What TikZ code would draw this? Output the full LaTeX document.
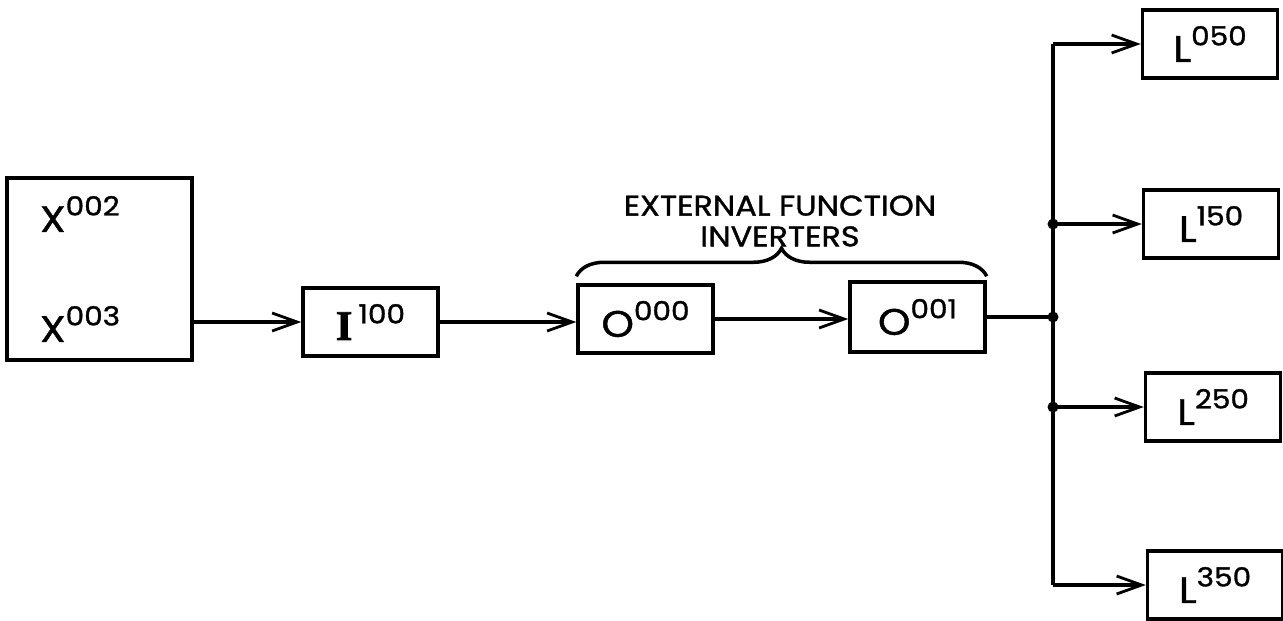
\documentclass[tikz,border=0pt]{standalone}
\usepackage{fontspec}
\setmainfont{Poppins}[FakeBold=1.2,FakeStretch=1.12,AutoFakeBold=1.2]
\newfontfamily\seriffam{Liberation Serif}[FakeBold=2]
\usepackage{tikz}
\usetikzlibrary{arrows.meta,positioning,decorations.pathreplacing}
\newcommand{\cname}[2]{\bfseries #1\raisebox{0.33cm}{\fontsize{15}{15}\selectfont #2}}
\tikzset{
  blk/.style={draw,line width=2pt,minimum width=2.7cm,minimum height=1.36cm,inner sep=2pt,
              font=\fontsize{21}{24}\selectfont},
  sig/.style={-{Straight Barb[length=5mm,width=3.6mm,line width=1.6pt]},line width=2pt},
  wire/.style={line width=2pt},
  dot/.style={circle,fill,inner sep=0pt,minimum size=0.22cm},
  brc/.style={decorate,decoration={brace,amplitude=0.56cm},line width=2pt},
}
\begin{document}
\begin{tikzpicture}[x=0.02cm,y=-0.02cm]
  \useasboundingbox (0,0) rectangle (1283,620);
  % source and chain
  \node[blk,minimum width=3.7cm,minimum height=3.64cm,align=left,text width=2.38cm,
        font=\fontsize{21}{62.6}\selectfont] (xbox) at (99.5,269) {\cname{X}{002}\\\cname{X}{003}};
  \node[blk] (i100) at (370.5,322) {\cname{{\seriffam\fontsize{24}{24}\selectfont I}\,}{100}};
  \node[blk] (o000) at (645.5,319) {\cname{O}{000}};
  \node[blk,minimum height=1.4cm] (o001) at (917.5,317) {\cname{O}{001}};
  % outputs
  \node[blk] (l050) at (1210,44)  {\cname{L}{050}};
  \node[blk] (l150) at (1211,224) {\cname{L}{150}};
  \node[blk] (l250) at (1213,407) {\cname{L}{250}};
  \node[blk] (l350) at (1215,585) {\cname{L}{350}};
  \coordinate (jn) at (1053,316);
  \coordinate (c050) at (jn |- l050.west);
  \coordinate (c150) at (jn |- l150.west);
  \coordinate (c250) at (jn |- l250.west);
  \coordinate (c350) at (jn |- l350.west);

  \draw[sig] (xbox.east |- i100.west) -- (i100.west);
  \draw[sig] (i100.east) -- (i100.east -| o000.west);
  \draw[sig] (o000.east) -- (o000.east -| o001.west);
  \draw[wire] (o001.east) -- (o001.east -| jn);
  \draw[wire] (c050) -- (c350);
  \foreach \k in {050,150,250,350} \draw[sig] (c\k) -- (l\k.west);
  \foreach \k in {150,250} \node[dot] at (c\k) {};
  \node[dot] at (o001.east -| jn) {};

  % brace over the inverters
  \coordinate (bl) at ([yshift=0.14cm]o000.north west);
  \coordinate (br) at (o001.north east |- bl);
  \draw[brc] (bl) -- (br);
  \node[align=center,font=\bfseries\fontsize{16.2}{17.5}\selectfont] (efi) at (780,221) {EXTERNAL FUNCTION\\INVERTERS};
\end{tikzpicture}
\end{document}
